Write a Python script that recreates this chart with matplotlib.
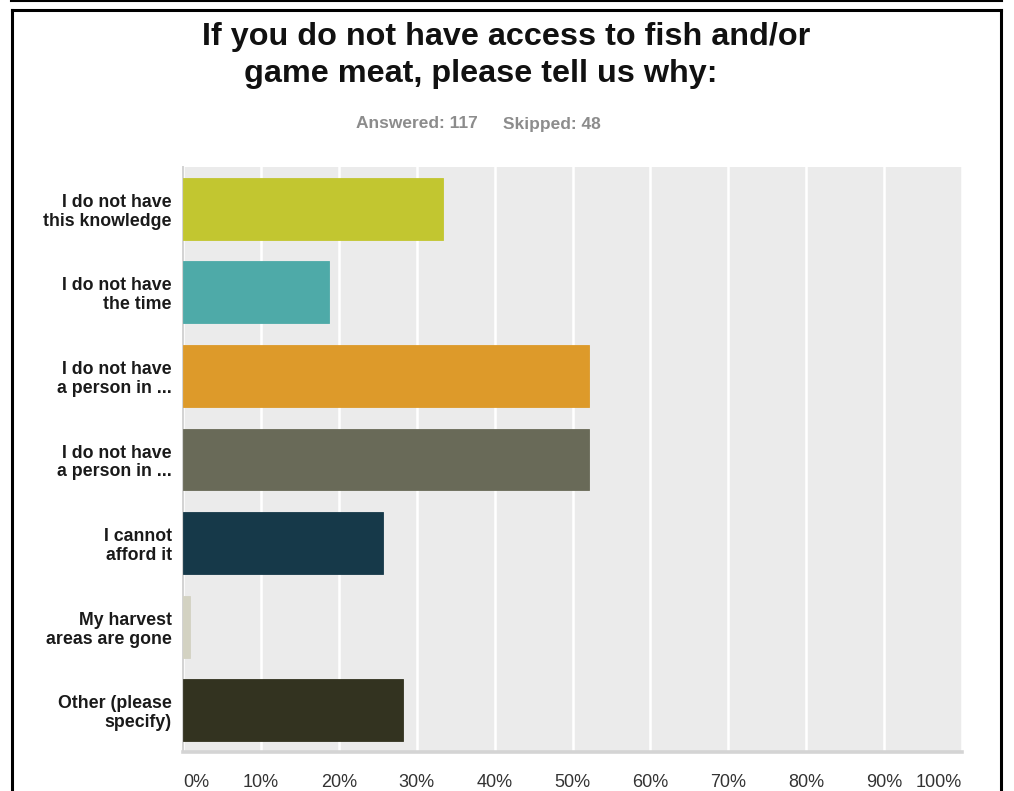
import matplotlib
matplotlib.use("Agg")
import matplotlib.pyplot as plt
from matplotlib.lines import Line2D

plt.rcParams["font.family"] = ["Liberation Sans", "DejaVu Sans"]

# ── data (share of 117 respondents, %) ──
categories = [
    "I do not have\nthis knowledge",
    "I do not have\nthe time",
    "I do not have\na person in ...",
    "I do not have\na person in ...",
    "I cannot\nafford it",
    "My harvest\nareas are gone",
    "Other (please\nspecify)",
]
values = [33.33, 18.80, 52.14, 52.14, 25.64, 0.85, 28.21]
colors = ["#c2c630", "#4eaaa8", "#dd9a2a", "#696a58", "#163949", "#d3d2c2", "#333320"]
ticks = list(range(0, 101, 10))
tick_labels = [f"{t}%" for t in ticks]

W, H = 1014, 791
fig = plt.figure(figsize=(W / 100, H / 100), dpi=100)
ax = fig.add_axes([183 / W, 1 - 752 / H, (962 - 183) / W, (752 - 167) / H])

ax.set_facecolor("#ebebeb")
ypos = list(range(len(categories)))
ax.barh(ypos, values, height=0.74, color=colors, edgecolor=colors, linewidth=0.6, zorder=3)
ax.set_xlim(0, 100)
ax.set_ylim(len(categories) - 0.5, -0.5)

ax.set_xticks(ticks)
ax.set_xticklabels(tick_labels, fontsize=13, color="#333333")
labs = ax.get_xticklabels()
labs[0].set_ha("left")
labs[-1].set_ha("right")
ax.tick_params(axis="x", length=0, pad=16)
ax.set_yticks(ypos)
ax.set_yticklabels(categories, fontsize=12.8, fontweight="bold", color="#1a1a1a", linespacing=1.15)
ax.tick_params(axis="y", length=0, pad=8)

ax.grid(axis="x", color="white", linewidth=1.8, zorder=1)
ax.set_axisbelow(True)
for s in ("top", "right"):
    ax.spines[s].set_visible(False)
ax.spines["left"].set_color("#d2d2d2")
ax.spines["left"].set_linewidth(1.4)
ax.spines["bottom"].set_color("#d4d4d4")
ax.spines["bottom"].set_linewidth(2.6)

# ── title / subtitle ──
fig.text(506 / W, 1 - 45 / H, "If you do not have access to fish and/or",
         ha="center", va="baseline", fontsize=23.3, fontweight="bold", color="#111111")
fig.text(480.5 / W, 1 - 82 / H, "game meat, please tell us why:",
         ha="center", va="baseline", fontsize=23.3, fontweight="bold", color="#111111")
fig.text(356 / W, 1 - 124 / H, "Answered: 117", ha="left", va="center",
         fontsize=12.5, fontweight="bold", color="#8c8c8c")
fig.text(503 / W, 1 - 124 / H, "Skipped: 48", ha="left", va="center",
         fontsize=12.5, fontweight="bold", color="#8c8c8c")

# ── page frame ──
def px_line(xs, ys, lw):
    fig.add_artist(Line2D([x / W for x in xs], [1 - y / H for y in ys],
                          transform=fig.transFigure, color="black", linewidth=lw))

px_line([11, 1002], [1, 1], 1.5)
px_line([11.5, 11.5], [H, 10], 2.2)
px_line([11.5, 1000.5], [10, 10], 2.2)
px_line([1000.5, 1000.5], [10, H], 2.2)

fig.savefig("out.png", dpi=100)
